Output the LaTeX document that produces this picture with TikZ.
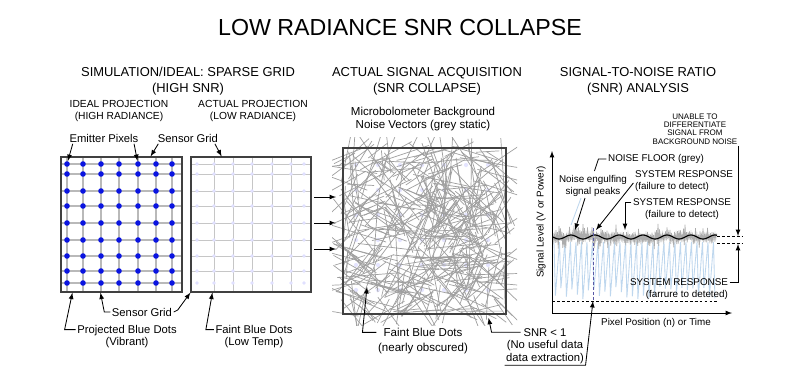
\documentclass[tikz,border=0pt]{standalone}
\usepackage{fontspec}
\setmainfont{Liberation Sans}
\usetikzlibrary{arrows}

\definecolor{dotblue}{RGB}{10,20,225}
\definecolor{sigblue}{RGB}{190,215,238}

\tikzset{
	ttl/.style={font=\fontsize{16.5}{19}\selectfont},
	hd/.style={font=\fontsize{9.2}{11.4}\selectfont, align=center},
	subhd/.style={font=\fontsize{7.3}{8.8}\selectfont, align=center},
	lbl/.style={font=\fontsize{8}{8.6}\selectfont, align=center, inner sep=1pt},
	plbl/.style={font=\fontsize{7}{8.2}\selectfont, inner sep=1pt},
	tinylbl/.style={font=\fontsize{5.7}{5.9}\selectfont, align=center, inner sep=1pt},
	panel/.style={draw=black!75, line width=0.8pt, inner sep=0pt},
	lead/.style={line width=0.6pt},
	emdot/.style={circle, fill=dotblue, inner sep=1.4pt},
	grid1/.style={gray!55, line width=0.9pt},
	grid2/.style={gray!45, line width=0.7pt},
	noise/.style={gray!75, line width=0.5pt},
	shortdash/.style={dash pattern=on 2pt off 1.5pt},
}

\begin{document}
\begin{tikzpicture}[x=0.025cm, y=-0.025cm, >=latex]
	\path [use as bounding box, fill=white] (0,0) rectangle (800,383);

	% headings
	\node [ttl] (title) at (400,28) {LOW RADIANCE SNR COLLAPSE};
	\node [hd] (hsim) at (188,81) {SIMULATION/IDEAL: SPARSE GRID\\(HIGH SNR)};
	\node [hd] (hact) at (427,81) {ACTUAL SIGNAL ACQUISITION\\(SNR COLLAPSE)};
	\node [hd] (hsnr) at (638,81) {SIGNAL-TO-NOISE RATIO\\(SNR) ANALYSIS};
	\node [subhd] (hideal) at (119,111) {IDEAL PROJECTION\\(HIGH RADIANCE)};
	\node [subhd] (hlow) at (253,111) {ACTUAL PROJECTION\\(LOW RADIANCE)};

	% left panel: sensor grid with emitter dots
	\foreach \gx in {67,83,101,119,138,156,172}
		\draw [grid1] (\gx,157) -- (\gx,292);
	\foreach \gy in {164,174,191,206,223,240,256,271,283}
		\draw [grid1] (61,\gy) -- (182,\gy);
	\foreach \gx [count=\i] in {67,83,101,119,138,156,172}
		\foreach \gy [count=\j] in {164,174,191,206,223,240,256,271,283}
			\node [emdot] (d\i-\j) at (\gx,\gy) {};
	\node [panel, minimum width=3.025cm, minimum height=3.375cm] (lbox) at (121.5,224.5) {};

	% second panel: same grid, faint dots
	\foreach \gx in {214,233,252,272,291}
		\draw [grid2] (\gx,157) -- (\gx,292);
	\foreach \gy in {164,174,191,206,223,240,256,271}
		\draw [grid2] (191,\gy) -- (311,\gy);
	\foreach \gx in {197,214,233,252,272,291,304}
		\foreach \gy in {164,174,191,206,223,240,256,271,283}
			\fill [blue!12] (\gx,\gy) circle [radius=1.3pt];
	\node [panel, minimum width=3cm, minimum height=3.375cm] (rbox) at (251,224.5) {};

	\foreach \ay [count=\i] in {197,223,249} {
		\coordinate (as\i) at (314,\ay);
		\coordinate (ae\i) at (336,\ay);
		\draw [->, lead] (as\i) -- (ae\i);
	}

	% middle panel: noise vectors over faint dots
	\foreach \gx in {356,378,400,422,444,466,488}
		\foreach \gy in {165,190,215,240,265,290}
			\fill [blue!10] (\gx,\gy) circle [radius=1.5pt];
	\pgfmathsetseed{42}
	\begin{scope}
		\clip (332,137) rectangle (517,325);
		\foreach \k in {1,...,420} {
			\pgfmathsetmacro{\ncx}{343+163*rnd}
			\pgfmathsetmacro{\ncy}{148+166*rnd}
			\pgfmathsetmacro{\nang}{180*rnd}
			\pgfmathsetmacro{\nlen}{10+24*rnd}
			\draw [noise] (\ncx,\ncy) ++(\nang:\nlen) -- ++(\nang+180:2*\nlen);
		}
	\end{scope}
	\node [panel, minimum width=4.075cm, minimum height=4.15cm] (mbox) at (424.5,231) {};

	% labels of the grids
	\node [lbl] (emit) at (104,138) {Emitter Pixels};
	\node [lbl] (sgtop) at (188,138) {Sensor Grid};
	\draw [->, lead] ([xshift=0.12cm]emit.south west) -- (d1-1);
	\draw [->, lead] ([xshift=-0.15cm]emit.south east) -- (d5-1);
	\draw [->, lead] ([xshift=0.05cm]sgtop.south west) -- ([xshift=-0.8cm]lbox.north east);
	\draw [->, lead] ([xshift=-0.12cm]sgtop.south east) -- ([xshift=0.78cm]rbox.north west);

	\node [lbl] (sgbot) at (142,312) {Sensor Grid};
	\node [lbl] (pbd) at (127,337) {Projected Blue Dots\\(Vibrant)};
	\node [lbl] (fbd) at (254,337) {Faint Blue Dots\\(Low Temp)};
	\draw [->, lead] (sgbot.west) -- ++(-6,0) -- ([xshift=1cm]lbox.south west);
	\draw [->, lead] (sgbot.east) -- ++(4,-2) -- (rbox.south west);
	\draw [->, lead] ([yshift=-0.14cm]pbd.north west) -- ++(-11,0) -- ([xshift=0.3cm]lbox.south west);
	\draw [->, lead] ([yshift=-0.14cm]fbd.north west) -- ++(-8,0) -- ([xshift=0.55cm]rbox.south west);

	\node [lbl, font=\fontsize{8.2}{9.2}\selectfont] (micro) at (423,119) {Microbolometer Background\\Noise Vectors (grey static)};
	\node [lbl, font=\fontsize{8.2}{10.2}\selectfont] (fbd2) at (423,341) {Faint Blue Dots\\(nearly obscured)};
	\coordinate (obsc) at (367,287);
	\draw [->, lead] ([yshift=-0.14cm]fbd2.north west) -- ++(-14,0) -- (obsc);

	% SNR plot
	\coordinate (org) at (552,313);
	\coordinate (ytop) at (552,151);
	\coordinate (xend) at (732,313);
	\coordinate (vtop) at (593,228);
	\coordinate (vfoot) at (593,301);
	% light blue signal spikes
	\draw [sigblue, line width=0.6pt] plot [domain=0:59, samples=60] ({554+5.5*floor(round(\x)/2)+1.4*mod(round(\x),2)}, {242+mod(round(\x),2)*(44+13*rnd)});
	\draw [gray!65, line width=0.5pt] plot [domain=0:218, samples=219] ({553+0.75*\x}, {237+(2*mod(round(\x),2)-1)*(2+13*rnd*rnd)});
	\draw [thick] plot [domain=553:717, samples=120, smooth] (\x, {237+2*sin(15*(\x-553))});
	\draw [shortdash, gray!70!blue, line width=0.5pt] (vtop) -- (vfoot);
	\draw [shortdash, lead] (552,301) -- (718,301);
	\draw [shortdash, lead] (717,236) -- (742,236);
	\draw [shortdash, lead] (717,243) -- (742,243);
	\draw [->, lead] (org) -- (ytop);
	\draw [->, lead] (org) -- (xend);

	\node [plbl, rotate=90] (ylab) at (541,222) {Signal Level (V or Power)};
	\node [plbl] (xlab) at (656,323) {Pixel Position (n) or Time};
	\node [plbl] (nfloor) at (656,159) {NOISE FLOOR (grey)};
	\node [plbl, align=center] (engulf) at (593,186) {Noise engulfing\\signal peaks};
	\node [plbl, align=left] (sr1) at (684,181) {SYSTEM RESPONSE\\(failure to detect)};
	\node [plbl, align=center] (sr2) at (682,209) {SYSTEM RESPONSE\\(failure to detect)};
	\node [plbl, align=right] (sr3) at (679,289) {SYSTEM RESPONSE\\(farrure to deteted)};
	\node [tinylbl] (unable) at (695,129) {UNABLE TO\\DIFFERENTIATE\\SIGNAL FROM\\BACKGROUND NOISE};
	\node [lbl, font=\fontsize{8}{8.9}\selectfont] (snr) at (545,346) {SNR < 1\\(No useful data\\data extraction)};

	\coordinate (pk1) at (575,230);
	\coordinate (pk2) at (596,230);
	\coordinate (pk3) at (625,230);
	\coordinate (nf1) at (738,236);
	\coordinate (nf2) at (738,244);
	\draw [lead] (nfloor.west) -- ++(-8,0) -- ++(-4,12);
	\draw [->, lead] ([xshift=-0.2cm]engulf.south) -- (pk1);
	\draw [sigblue, line width=0.6pt] ([xshift=-0.3cm]engulf.south) -- ++(-10,27);
	\draw [->, lead] ([yshift=-0.05cm]sr1.west) -- (pk2);
	\draw [->, lead] ([yshift=-0.14cm]sr2.north west) -| (pk3);
	\draw [->, lead] (unable.south east -| nf1) -- (nf1);
	\draw [->, lead] ([yshift=-0.14cm]sr3.north east) -| (nf2);
	\draw [->, lead] ([xshift=0.4cm, yshift=-0.14cm]snr.north west) -- ++(-29,0) -- ([xshift=-0.45cm, yshift=-0.08cm]mbox.south east);
	\draw [->, lead] (snr.south west) -- ++(81,0) -- (vfoot);
\end{tikzpicture}
\end{document}
